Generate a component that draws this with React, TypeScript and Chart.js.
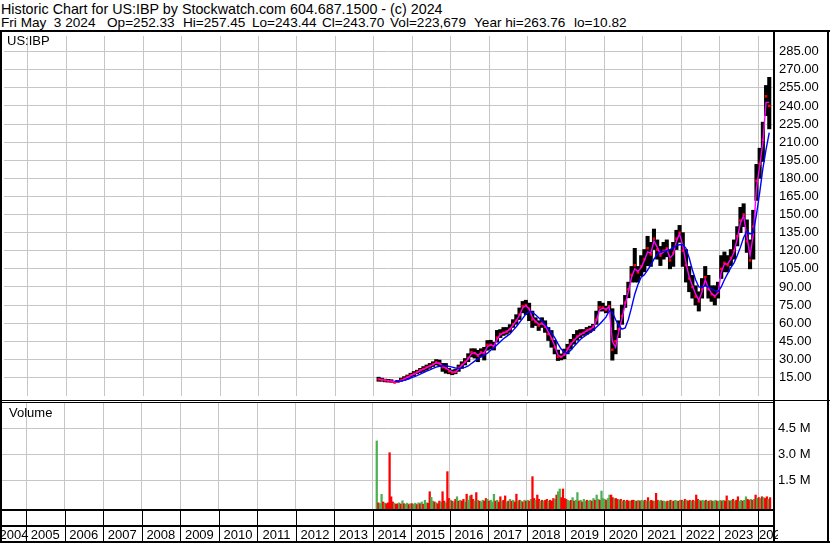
import React, { useEffect, useRef } from 'react';
import { Chart, registerables } from 'chart.js';

Chart.register(...registerables);

// ---------- text ----------
const HEADER_LINE_1 = 'Historic Chart for US:IBP by Stockwatch.com 604.687.1500 - (c) 2024';
const HEADER_LINE_2_ITEMS = [
  'Fri May  3 2024',
  'Op=252.33',
  'Hi=257.45',
  'Lo=243.44',
  'Cl=243.70',
  'Vol=223,679',
  'Year hi=263.76',
  'lo=10.82',
];
const SYMBOL = 'US:IBP';
const VOLUME_TITLE = 'Volume';

// ---------- axes ----------
const YEAR_LABELS = [
  '2004', '2005', '2006', '2007', '2008', '2009', '2010', '2011', '2012', '2013', '2014',
  '2015', '2016', '2017', '2018', '2019', '2020', '2021', '2022', '2023', '2024',
];
const YEAR_GRID = [
  2005, 2006, 2007, 2008, 2009, 2010, 2011, 2012, 2013, 2014,
  2015, 2016, 2017, 2018, 2019, 2020, 2021, 2022, 2023, 2024,
];
const PRICE_TICKS = [15, 30, 45, 60, 75, 90, 105, 120, 135, 150, 165, 180, 195, 210, 225, 240, 255, 270, 285];
const VOLUME_TICKS = [1500, 3000, 4500]; // thousands of shares

// ---------- monthly price data, Feb 2014 .. Apr 2024 ----------
const FIRST_YEAR = 2014;
const FIRST_MONTH = 2; // February

const PRICE_HIGH = [
  15.2, 14.4, 13.6, 13.4, 13.1, 11.8, 12.6, 14.4, 15.7, 17.0, 18.5,
  19.9, 21.0, 22.5, 24.0, 25.3, 26.6, 28.0, 29.8, 29.4, 26.6, 26.6, 22.5,
  21.2, 21.7, 25.3, 28.0, 30.7, 34.7, 38.8, 38.8, 37.5, 38.8, 40.0, 45.6,
  45.8, 44.2, 54.0, 54.7, 56.4, 56.4, 58.8, 62.9, 67.0, 72.6, 78.0, 79.0,
  76.6, 70.0, 64.5, 62.0, 64.5, 62.0, 56.4, 53.9, 45.8, 37.7, 34.5, 38.5,
  42.5, 46.6, 50.7, 53.9, 54.7, 54.7, 56.4, 57.5, 59.0, 70.0, 78.0, 76.6,
  74.0, 78.0, 72.0, 54.0, 62.0, 75.0, 83.0, 94.0, 107.0, 122.0, 107.0, 116.0,
  121.0, 132.0, 127.0, 138.0, 129.0, 123.6, 127.0, 129.0, 121.0, 127.0, 137.0, 141.0,
  135.0, 121.0, 107.0, 99.6, 91.0, 86.0, 97.0, 107.0, 99.6, 91.0, 91.0, 94.0,
  116.0, 119.0, 116.0, 121.0, 129.0, 140.0, 156.0, 159.0, 145.6, 129.0, 153.6, 191.6,
  205.0, 226.6, 257.0, 263.76,
];
const PRICE_LOW = [
  11.8, 11.8, 11.3, 11.2, 11.0, 10.82, 11.0, 11.8, 12.6, 13.6, 15.2,
  16.4, 18.0, 19.0, 19.9, 21.0, 22.5, 24.0, 25.3, 24.0, 20.0, 18.5, 18.0,
  17.2, 18.0, 20.0, 22.5, 25.3, 28.0, 32.0, 31.0, 28.0, 32.0, 29.4, 37.5,
  38.5, 37.7, 44.2, 48.0, 49.8, 50.7, 52.3, 56.4, 59.0, 63.0, 68.5, 67.0,
  62.0, 56.4, 58.0, 53.9, 56.4, 52.3, 45.6, 40.0, 34.5, 29.0, 29.5, 30.4,
  34.5, 38.5, 42.5, 45.8, 48.0, 49.8, 50.7, 52.3, 53.9, 59.0, 70.0, 70.0,
  68.5, 70.0, 29.3, 34.5, 48.0, 59.0, 73.0, 81.0, 94.0, 94.0, 94.0, 99.0,
  102.5, 107.6, 107.0, 121.0, 113.0, 107.7, 113.0, 115.0, 105.0, 107.0, 121.0, 127.0,
  107.0, 94.0, 86.0, 80.7, 75.0, 70.0, 80.7, 91.0, 80.7, 78.0, 75.0, 80.7,
  97.0, 102.5, 102.5, 107.7, 113.0, 124.0, 135.0, 140.0, 118.6, 105.0, 113.0, 161.7,
  180.0, 194.0, 232.0, 221.0,
];
const PRICE_CLOSE = [
  13.5, 13.0, 12.5, 12.0, 11.5, 10.8, 11.5, 13.0, 14.0, 15.5, 17.0,
  18.0, 19.5, 21.0, 22.0, 23.5, 24.5, 26.0, 27.5, 26.5, 23.5, 22.5, 20.0,
  19.0, 19.5, 23.0, 25.5, 28.0, 31.0, 36.0, 35.0, 33.0, 36.0, 35.0, 42.0,
  42.0, 40.5, 48.0, 51.0, 52.0, 53.0, 55.0, 59.0, 62.0, 67.0, 74.0, 75.0,
  72.0, 63.0, 61.0, 58.0, 60.0, 57.0, 51.0, 47.0, 40.0, 32.0, 32.0, 34.0,
  39.0, 43.0, 46.0, 49.0, 51.0, 52.0, 54.0, 55.0, 57.0, 63.0, 73.0, 73.0,
  71.0, 74.0, 38.0, 45.0, 55.0, 66.0, 77.0, 88.0, 100.0, 108.0, 102.0, 107.0,
  113.0, 122.0, 117.0, 130.0, 121.0, 116.0, 120.0, 122.0, 112.0, 118.0, 130.0, 135.0,
  120.0, 108.0, 97.0, 90.0, 82.0, 78.0, 88.0, 98.0, 88.0, 84.0, 82.0, 86.0,
  105.0, 110.0, 108.0, 114.0, 120.0, 132.0, 145.0, 150.0, 128.0, 112.0, 140.0, 178.0,
  192.0, 212.0, 248.0, 240.0,
];
const MA_FAST = [
  13.3, 13.2, 12.8, 12.3, 11.8, 11.2, 11.3, 12.3, 13.5, 15.0, 16.4,
  17.7, 19.2, 20.6, 21.8, 23.2, 24.3, 25.6, 27.2, 26.8, 24.4, 22.8, 21.0,
  19.6, 19.2, 22.0, 25.0, 27.6, 30.5, 34.8, 35.5, 33.5, 35.2, 35.5, 40.5,
  42.0, 41.0, 46.5, 50.5, 52.0, 53.0, 55.0, 58.5, 62.0, 66.5, 72.5, 74.5,
  72.0, 64.5, 61.5, 59.0, 59.5, 58.0, 52.5, 47.5, 41.0, 33.5, 32.0, 33.5,
  38.0, 42.5, 45.5, 48.5, 50.5, 52.0, 53.5, 55.0, 56.5, 62.0, 71.0, 72.5,
  71.5, 73.5, 45.0, 40.0, 53.0, 64.0, 75.5, 86.0, 98.0, 105.0, 103.0, 106.0,
  112.0, 119.0, 118.0, 128.0, 123.0, 117.0, 119.0, 121.5, 114.0, 117.0, 128.0, 134.0,
  124.0, 110.0, 98.0, 91.0, 84.0, 79.0, 86.0, 96.0, 89.0, 84.5, 82.5, 85.0,
  102.0, 109.0, 109.0, 113.0, 119.0, 130.0, 143.0, 149.0, 132.0, 116.0, 133.0, 172.0,
  190.0, 210.0, 243.0, 243.0,
];
const MA_SLOW = [
  null, null, null, null, null, 12.0, 11.8, 12.0, 12.6, 13.5, 14.5,
  15.5, 16.5, 17.8, 19.0, 20.2, 21.3, 22.5, 23.6, 24.3, 24.7, 24.6, 24.2,
  23.5, 22.8, 22.5, 22.8, 23.3, 24.5, 26.5, 28.5, 30.5, 32.0, 33.5, 35.0,
  37.5, 39.5, 42.0, 44.5, 47.0, 49.0, 51.0, 54.0, 57.0, 60.5, 64.0, 67.5,
  69.5, 69.0, 67.0, 64.5, 62.0, 59.0, 55.5, 52.0, 48.0, 43.0, 38.5, 36.0,
  35.0, 37.5, 40.5, 43.5, 46.5, 48.5, 50.5, 52.0, 54.0, 56.5, 59.0, 62.0,
  65.0, 70.0, 69.0, 63.0, 58.0, 55.0, 56.0, 63.0, 73.0, 84.0, 92.0, 98.0,
  100.0, 104.0, 108.0, 113.0, 117.0, 119.0, 119.5, 120.0, 121.0, 122.5, 124.0, 125.0,
  125.0, 122.0, 114.0, 104.0, 96.0, 90.0, 89.5, 91.0, 90.0, 88.5, 87.0, 86.0,
  90.0, 96.0, 101.0, 106.0, 110.0, 116.0, 123.0, 131.0, 136.0, 134.0, 135.0, 150.0,
  168.0, 188.0, 204.0, 218.0,
];

// ---------- half-monthly volume (thousands), Feb 2014 .. Apr 2024 ----------
const VOLUME_K = [
  3770, 200, 150, 690, 250, 180, 150, 200, 3090, 550, 250, 180, 120, 150, 200, 130, 320, 150, 120, 180, 100, 150,
  150, 120, 180, 100, 200, 150, 250, 120, 350, 200, 180, 840, 520, 300, 250, 200, 150, 300, 250, 840, 300, 200, 2000, 450,
  350, 300, 250, 400, 550, 300, 350, 300, 400, 250, 700, 350, 600, 650, 400, 300, 790, 350, 300, 250, 350, 300, 450, 400,
  300, 350, 250, 690, 300, 350, 250, 550, 300, 350, 600, 250, 300, 400, 300, 350, 250, 700, 300, 350, 300, 250, 350, 300,
  350, 300, 400, 1710, 450, 350, 650, 400, 300, 350, 300, 350, 400, 300, 350, 300, 450, 400, 650, 840, 1000, 500, 1000, 450,
  400, 350, 300, 350, 500, 300, 350, 790, 300, 350, 250, 400, 300, 350, 300, 350, 300, 450, 350, 650, 400, 350, 880, 450,
  400, 350, 450, 650, 650, 500, 450, 450, 400, 350, 400, 300, 350, 300, 350, 300, 300, 350, 350, 300, 300, 350, 300, 350,
  300, 350, 300, 500, 300, 350, 300, 300, 750, 350, 300, 350, 300, 300, 250, 300, 300, 350, 300, 300, 350, 300, 300, 350,
  350, 300, 400, 350, 300, 350, 300, 350, 300, 650, 400, 350, 300, 350, 300, 350, 300, 300, 350, 300, 300, 350, 300, 300,
  350, 300, 350, 300, 600, 350, 300, 350, 400, 300, 350, 550, 300, 350, 300, 350, 550, 400, 350, 400, 350, 400, 650, 450,
  500, 450, 550, 500, 450, 550, 400, 500,
];
// G = up period (green), R = down period (red)
const VOLUME_DIR =
  'GRGGRGRRRRRGRRGRGRGGRG' +
  'RGGRGRGRGGRRGGRGRRGRRGRR' +
  'GRGRGRGRRGRGGRRGRGRGGRRG' +
  'RGGGRGRRGRRGRGRGRRGRGRGR' +
  'GRGRRGRRGRGRRGRRRGRGGRRR' +
  'RGGRGRGGRGRGGRGGRGRGGRGG' +
  'GRGGRRGRRGRGRGRRGRRGRGRG' +
  'GRGRGRRGRRGGRGGRGRGRGGRG' +
  'RGRGRRGRGRRGRGGRGRGRGGRG' +
  'GRGRRGRGRGRRGGRGGRRGRGRG' +
  'RGRGRRGR';

// ---------- layout / style constants ----------
const FONT = '"Liberation Sans", Arial, Helvetica, sans-serif';
const GRID = '#c6c6c6';
const GREEN = '#4caf50';
const RED = '#ff0000';
const X_MIN = 2004.377;
const X_MAX = 2024.389;
const PRICE_MIN = -0.4;
const PRICE_MAX = 298.0;
const VOL_MIN = -156;
const VOL_MAX = 5960;
const AXIS_W = 57;
const HEADER_2_X = [1, 107, 183, 252, 322, 390, 474, 574];

const monthT = (i: number) => FIRST_YEAR + (FIRST_MONTH - 1 + i + 0.5) / 12;
const halfMonthT = (i: number) => FIRST_YEAR + ((FIRST_MONTH - 1) * 2 + i + 0.5) / 24;

const yearAxisPlugin = {
  id: 'yearAxis',
  afterDraw(chart: any) {
    const { ctx, chartArea } = chart;
    const xs = chart.scales.x;
    const top = chartArea.bottom;
    ctx.save();
    ctx.beginPath();
    ctx.rect(0, top, 778, 40);
    ctx.clip();
    ctx.fillStyle = '#000';
    for (const y of YEAR_GRID) {
      const px = Math.round(xs.getPixelForValue(y));
      ctx.fillRect(px, top, 1, 34);
    }
    ctx.font = `13px ${FONT}`;
    ctx.textBaseline = 'alphabetic';
    ctx.textAlign = 'left';
    YEAR_LABELS.forEach((label) => {
      const yr = Number(label);
      const a = Math.max(chartArea.left, xs.getPixelForValue(yr));
      const b = Math.min(chartArea.right, xs.getPixelForValue(yr + 1));
      const w = ctx.measureText(label).width;
      let x = (a + b) / 2 - w / 2;
      if (x < a && xs.getPixelForValue(yr) > chartArea.left) x = a + 1;
      ctx.fillText(label, x, top + 30);
    });
    ctx.restore();
  },
};

function xScale(height: number) {
  return {
    type: 'linear',
    min: X_MIN,
    max: X_MAX,
    offset: false,
    afterBuildTicks: (s: any) => {
      s.ticks = YEAR_GRID.map((v) => ({ value: v }));
    },
    afterFit: (s: any) => {
      s.height = height;
      s.paddingLeft = 0;
      s.paddingRight = 0;
    },
    ticks: { display: false },
    grid: { color: GRID, lineWidth: 1, drawTicks: false, offset: false },
    border: { display: false },
  };
}

export default function App() {
  const priceRef = useRef<HTMLCanvasElement>(null);
  const volRef = useRef<HTMLCanvasElement>(null);

  useEffect(() => {
    const range = PRICE_HIGH.map((h, i) => ({ x: monthT(i), y: [PRICE_LOW[i], h] }));
    const close = PRICE_CLOSE.map((c, i) => ({ x: monthT(i), y: c }));
    const fast = MA_FAST.map((v, i) => ({ x: monthT(i), y: v }));
    const slow = MA_SLOW.map((v, i) => ({ x: monthT(i), y: v }));

    const priceChart = new Chart(priceRef.current as HTMLCanvasElement, {
      type: 'bar',
      data: {
        datasets: [
          {
            type: 'line',
            data: slow as any,
            borderColor: '#0000ff',
            borderWidth: 1.4,
            pointRadius: 0,
            spanGaps: false,
            order: 1,
          },
          {
            type: 'line',
            data: fast as any,
            borderColor: '#ff00ff',
            borderWidth: 1.4,
            pointRadius: 0,
            order: 2,
          },
          {
            type: 'line',
            data: close as any,
            showLine: false,
            pointStyle: 'rect',
            pointRadius: 1.8,
            pointBackgroundColor: RED,
            pointBorderWidth: 0,
            order: 3,
          },
          {
            type: 'bar',
            data: range as any,
            backgroundColor: '#000',
            barThickness: 3.4,
            order: 4,
          },
        ],
      } as any,
      options: {
        responsive: false,
        animation: false,
        events: [],
        layout: { padding: { left: 2, right: 0, top: 0, bottom: 0 } },
        plugins: { legend: { display: false }, tooltip: { enabled: false } },
        scales: {
          x: xScale(0),
          y: {
            type: 'linear',
            position: 'right',
            min: PRICE_MIN,
            max: PRICE_MAX,
            beginAtZero: false,
            afterBuildTicks: (s: any) => {
              s.ticks = PRICE_TICKS.map((v) => ({ value: v }));
            },
            afterFit: (s: any) => {
              s.width = AXIS_W;
              s.paddingTop = 0;
              s.paddingBottom = 0;
            },
            ticks: {
              autoSkip: false,
              padding: 6,
              color: '#000',
              font: { family: FONT, size: 13 },
              callback: (v: any) => Number(v).toFixed(2),
            },
            grid: { color: GRID, lineWidth: 1, drawTicks: false },
            border: { display: false },
          },
        } as any,
      },
    });

    const volData = VOLUME_K.map((v, i) => ({ x: halfMonthT(i), y: v }));
    const volColors = VOLUME_K.map((_, i) => (VOLUME_DIR[i] === 'G' ? GREEN : RED));

    const volChart = new Chart(volRef.current as HTMLCanvasElement, {
      type: 'bar',
      data: {
        datasets: [
          {
            data: volData as any,
            backgroundColor: volColors,
            base: VOL_MIN,
            barPercentage: 1,
            categoryPercentage: 1,
            borderWidth: 0,
          },
        ],
      } as any,
      options: {
        responsive: false,
        animation: false,
        events: [],
        layout: { padding: { left: 2, right: 0, top: 0, bottom: 0 } },
        plugins: { legend: { display: false }, tooltip: { enabled: false } },
        scales: {
          x: xScale(34),
          y: {
            type: 'linear',
            position: 'right',
            min: VOL_MIN,
            max: VOL_MAX,
            beginAtZero: false,
            afterBuildTicks: (s: any) => {
              s.ticks = VOLUME_TICKS.map((v) => ({ value: v }));
            },
            afterFit: (s: any) => {
              s.width = AXIS_W;
              s.paddingTop = 0;
              s.paddingBottom = 0;
            },
            ticks: {
              autoSkip: false,
              padding: 5,
              color: '#000',
              font: { family: FONT, size: 13 },
              callback: (v: any) => (Number(v) / 1000).toFixed(1) + ' M',
            },
            grid: { color: GRID, lineWidth: 1, drawTicks: false },
            border: { display: false },
          },
        } as any,
      },
      plugins: [yearAxisPlugin as any],
    });

    return () => {
      priceChart.destroy();
      volChart.destroy();
    };
  }, []);

  const line = (l: number, t: number, w: number, h: number) => (
    <div style={{ position: 'absolute', left: l, top: t, width: w, height: h, background: '#000' }} />
  );

  return (
    <div
      style={{
        position: 'absolute',
        left: 0,
        top: 0,
        width: 830,
        height: 543,
        background: '#fff',
        overflow: 'hidden',
        fontFamily: FONT,
        color: '#000',
      }}
    >
      <canvas
        ref={priceRef}
        width={830}
        height={368}
        style={{ position: 'absolute', left: 0, top: 32, width: 830, height: 368 }}
      />
      <canvas
        ref={volRef}
        width={830}
        height={140}
        style={{ position: 'absolute', left: 0, top: 403, width: 830, height: 140 }}
      />
      <div
        style={{
          position: 'absolute',
          left: 1,
          top: 1.5,
          fontSize: 14.3,
          lineHeight: '14px',
          whiteSpace: 'pre',
        }}
      >
        {HEADER_LINE_1}
      </div>
      {HEADER_LINE_2_ITEMS.map((t, i) => (
        <div
          key={i}
          style={{
            position: 'absolute',
            left: HEADER_2_X[i],
            top: 15.6,
            fontSize: 13.6,
            lineHeight: '14px',
            whiteSpace: 'pre',
          }}
        >
          {t}
        </div>
      ))}
      <div style={{ position: 'absolute', left: 7, top: 34, fontSize: 13, lineHeight: '14px' }}>{SYMBOL}</div>
      <div style={{ position: 'absolute', left: 9, top: 406, fontSize: 13, lineHeight: '14px' }}>{VOLUME_TITLE}</div>
      {line(0, 30, 830, 2)}
      {line(0, 30, 2, 513)}
      {line(773, 30, 2, 513)}
      {line(827, 30, 2, 513)}
      {line(0, 400, 830, 1)}
      {line(0, 402, 775, 1)}
      {line(0, 509, 775, 2)}
      {line(0, 525, 775, 2)}
      {line(0, 541, 830, 2)}
    </div>
  );
}
